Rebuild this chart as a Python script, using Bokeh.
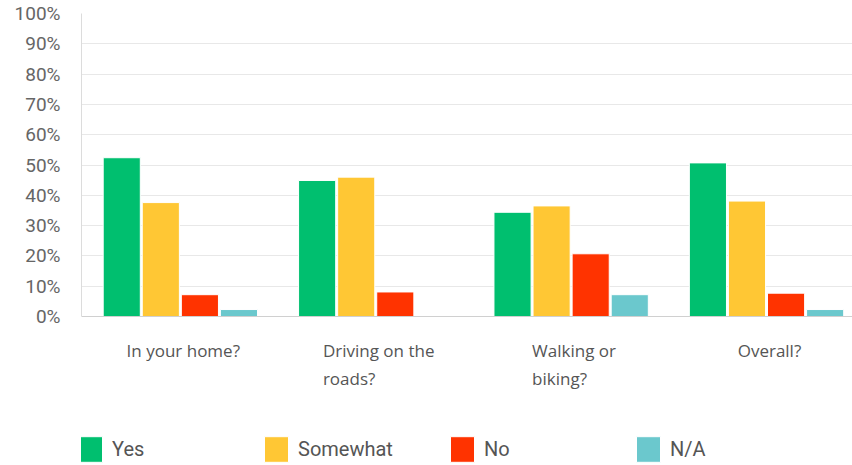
from bokeh.plotting import figure
from bokeh.models import (Range1d, FixedTicker, Legend, LegendItem,
                          ColumnDataSource, PrintfTickFormatter)
from bokeh.core.properties import value
from bokeh.transform import dodge
from bokeh.embed import file_html
from bokeh.resources import INLINE

# ---- data (percent of respondents) ----
categories = ["In your home?", "Driving on the\nroads?", "Walking or\nbiking?", "Overall?"]
yes = [52.4, 44.9, 34.4, 50.7]
somewhat = [37.6, 46.0, 36.5, 38.1]
no = [7.2, 8.1, 20.7, 7.7]
na = [2.3, 0.0, 7.2, 2.3]
series_names = ["Yes", "Somewhat", "No", "N/A"]
y_ticks = [0, 10, 20, 30, 40, 50, 60, 70, 80, 90, 100]

colors = ["#00BF6F", "#FFC734", "#FF3300", "#6BC8CD"]
pos = list(range(len(categories)))

src = ColumnDataSource(dict(x=pos, label=categories, base=[0] * len(pos),
                            yes=yes, somewhat=somewhat, no=no, na=na))

# frame spans the whole lower area (category labels + legend live inside it, below y=0)
p = figure(width=852, height=465,
           x_range=Range1d(-0.506, 3.44), y_range=Range1d(-49.17, 100),
           output_backend="svg", toolbar_location=None,
           min_border_left=81, min_border_right=0,
           min_border_top=13, min_border_bottom=0)
p.outline_line_color = None
p.background_fill_color = "white"
p.border_fill_color = "white"

renderers = []
for col, off, c in zip(["yes", "somewhat", "no", "na"], [-0.3, -0.1, 0.1, 0.3], colors):
    r = p.vbar(x=dodge("x", off, range=p.x_range), top=col, width=0.19,
               source=src, fill_color=c, line_color="white", line_width=1)
    renderers.append(r)

# x axis line drawn at y = 0; category labels as left-aligned text blocks centred on groups
p.xaxis.fixed_location = 0
p.xaxis.ticker = FixedTicker(ticks=[])
p.xaxis.major_tick_line_color = None
p.xaxis.minor_tick_line_color = None
p.xaxis.axis_line_color = "#d0d0d0"
p.xgrid.grid_line_color = None

p.text(x=dodge("x", 0.015, range=p.x_range), y="base", text="label", source=src,
       anchor="top_center", text_align="left", y_offset=22, text_line_height=1.25,
       text_font=value("Open Sans"), text_font_size="17px", text_color="#555555")

# y axis
p.yaxis.bounds = (0, 100)
p.yaxis.ticker = FixedTicker(ticks=y_ticks)
p.yaxis.formatter = PrintfTickFormatter(format="%d%%")
p.yaxis.major_tick_line_color = None
p.yaxis.minor_tick_line_color = None
p.yaxis.axis_line_color = "#dcdcdc"
p.yaxis.major_label_standoff = 15
p.yaxis.major_label_text_font = "Roboto"
p.yaxis.major_label_text_font_size = "19px"
p.yaxis.major_label_text_color = "#666666"
p.ygrid.ticker = FixedTicker(ticks=y_ticks)
p.ygrid.grid_line_color = "#e8e8e8"

# legend along the bottom
legend = Legend(items=[LegendItem(label=n, renderers=[r]) for n, r in zip(series_names, renderers)],
                orientation="horizontal", location=(-6, 0),
                glyph_width=30, glyph_height=32, label_standoff=7,
                label_width=149, spacing=0, padding=0, margin=0,
                border_line_color=None, background_fill_alpha=0,
                label_text_font="Roboto", label_text_font_size="20px",
                label_text_color="#555555")
p.add_layout(legend, "center")

open("out.html", "w").write(file_html(p, INLINE))
